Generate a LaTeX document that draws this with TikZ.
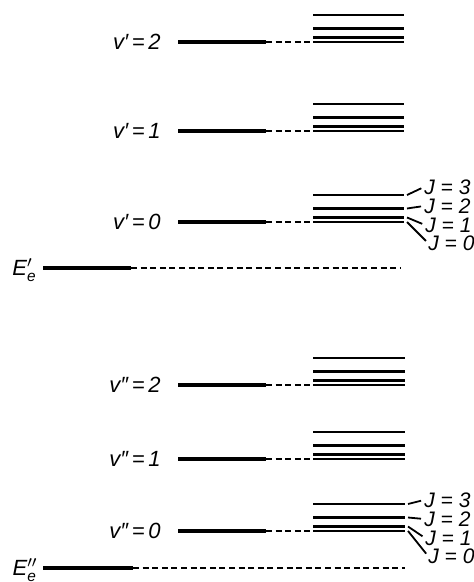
\documentclass[tikz,border=0pt]{standalone}
\usepackage{amsmath}
\usepackage{fontspec}
\setmainfont{Liberation Sans}
\usetikzlibrary{positioning}
\tikzset{
  vib/.style={line width=1.6pt},
  gap/.style={line width=1pt, dash pattern=on 3pt off 1.8pt},
  rot/.style={line width=1.4pt},
  jtick/.style={line width=0.9pt, shorten >=1.5pt},
  lvl/.style={font=\fontsize{11}{13}\selectfont\itshape, inner sep=0pt, anchor=east},
  jlab/.style={font=\fontsize{10.5}{12}\selectfont\itshape, inner sep=0pt, anchor=west}
}

\begin{document}
\begin{tikzpicture}[x=0.5pt, y=-0.5pt]
  \useasboundingbox (0,0) rectangle (473,582);
  % upper electronic state
  \foreach \y/\v in {42/2, 131/1, 222/0} {
    \node[lvl] (vu\v) at (161,\y) {v′\,=\,\v};
    \draw[vib] (178,\y) -- (266,\y);
    \draw[gap] (266,\y) -- (312,\y);
    \foreach \J in {0,...,3}
      \draw[rot] (313,{\y-2.25*\J*(\J+1)}) -- (404,{\y-2.25*\J*(\J+1)})
        coordinate (ru\v\J);
  }
  \node[lvl] (Eu) at (37,270) {E$^{\prime}_{\textit{e}}$};
  \draw[vib] (43,268) -- (131,268);
  \draw[gap] (131,268) -- (400,268);
  % lower electronic state
  \foreach \y/\v in {385/2, 459/1, 531/0} {
    \node[lvl] (vl\v) at (161,\y) {v″\,=\,\v};
    \draw[vib] (178,\y) -- (266,\y);
    \draw[gap] (266,\y) -- (312,\y);
    \foreach \J in {0,...,3}
      \draw[rot] (313,{\y-2.25*\J*(\J+1)}) -- (405,{\y-2.25*\J*(\J+1)})
        coordinate (rl\v\J);
  }
  \node[lvl] (El) at (38,570) {E$^{\prime\prime}_{\textit{e}}$};
  \draw[vib] (43,568) -- (133,568);
  \draw[gap] (133,568) -- (405,568);
  % J labels
  \foreach \J/\dy/\dx in {3/187/424, 2/206/424, 1/225/425, 0/243/428} {
    \node[jlab] (ju\J) at (\dx,\dy) {J = \J};
    \draw[jtick] ([xshift=1.5pt]ru0\J) -- (ju\J.west);
  }
  \foreach \J/\dy/\dx in {3/500/424, 2/519/424, 1/538/425, 0/556/428} {
    \node[jlab] (jl\J) at (\dx,\dy) {J = \J};
    \draw[jtick] ([xshift=1.5pt]rl0\J) -- (jl\J.west);
  }
\end{tikzpicture}
\end{document}
